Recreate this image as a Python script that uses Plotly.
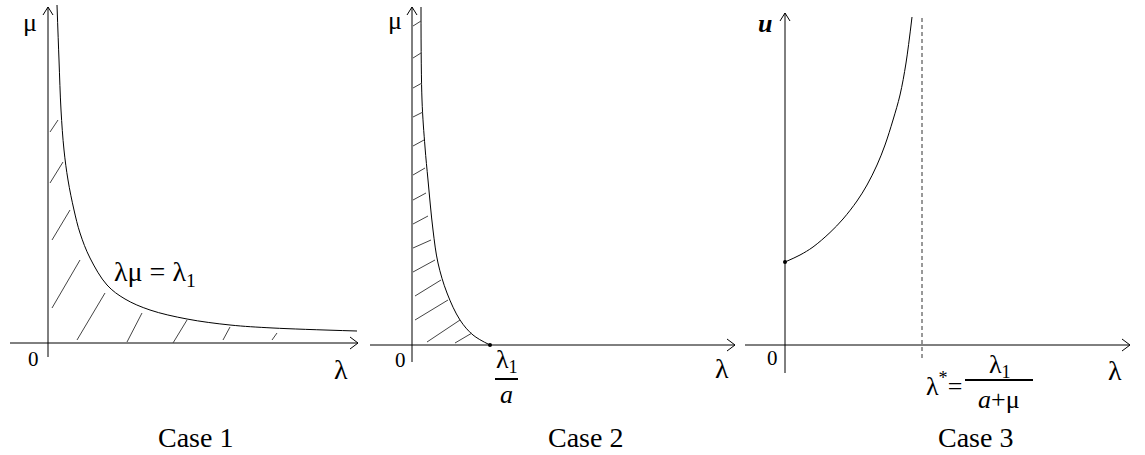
import plotly.graph_objects as go
from plotly.subplots import make_subplots

# --- Case 1: boundary lambda*mu = lambda_1 ---
c1_lam = [0.9, 1.1, 1.3, 1.6, 2.0, 2.6, 3.2, 4.2, 5.9, 7.7, 10.2, 13.9, 18.2, 22.5, 30.9]
c1_mu = [33.8, 28.3, 23.3, 19.3, 16.3, 13.3, 11.0, 8.5, 5.8, 4.4, 3.3, 2.4, 1.8, 1.5, 1.2]
# hatch strokes: start (lam, mu) -> end (lam, mu)
c1_hatch_l0 = [0.2, 0.2, 0.4, 0.4, 2.9, 7.9, 12.5, 17.5, 22.4]
c1_hatch_m0 = [21.1, 16.0, 10.3, 3.5, 0.3, 0.1, 0.0, 0.3, 0.3]
c1_hatch_l1 = [1.0, 1.5, 2.2, 3.2, 5.7, 9.4, 13.9, 18.2, 22.9]
c1_hatch_m1 = [22.3, 18.1, 13.3, 8.3, 5.0, 3.0, 2.3, 1.6, 1.0]

# --- Case 2: curve hitting the lambda axis at lambda_1 / a ---
c2_lam = [0.9, 1.0, 1.3, 1.6, 2.1, 2.6, 3.5, 4.8, 6.1, 7.8]
c2_mu = [33.8, 24.5, 19.8, 16.5, 11.5, 8.2, 5.2, 2.5, 1.0, 0.0]
c2_hatch_l0 = [0.1, 0.1, 0.1, 0.1, 0.1, 0.1, 0.1, 0.1, 0.1, 0.1, 0.3, 0.3, 1.5, 4.3]
c2_hatch_m0 = [31.9, 28.7, 25.7, 22.8, 19.9, 17.0, 14.5, 12.1, 9.7, 7.3, 4.9, 2.5, 0.3, 0.2]
c2_hatch_l1 = [0.9, 0.9, 1.0, 1.1, 1.2, 1.3, 1.4, 1.6, 1.9, 2.3, 2.9, 3.6, 4.8, 6.0]
c2_hatch_m1 = [32.4, 29.2, 26.2, 23.3, 20.5, 17.7, 15.2, 12.9, 10.5, 8.5, 6.5, 4.5, 2.5, 1.2]

# --- Case 3: u(lambda) blowing up at lambda* ---
c3_lam = [0.0, 1.5, 2.8, 4.5, 5.8, 7.2, 8.2, 9.2, 10.0, 10.8, 11.5, 12.1, 12.7]
c3_u = [8.3, 9.0, 9.8, 11.25, 12.6, 14.4, 16.0, 18.0, 20.0, 22.5, 25.0, 28.2, 32.8]
lam_star = 13.7
lam_star_span = [-1.3, 32.8]

# axis extents per panel: (x from, x to, y from, y to)
axes_ext = [(-3.8, 31.0, -1.4, 33.6), (-4.2, 32.3, -1.7, 33.8), (-4.0, 34.5, -2.8, 33.2)]
# visible ranges per panel
x_ranges = [[-4.8, 32.2], [-4.2, 33.3], [-4.0, 36.0]]
y_ranges = [[-11.2, 34.3], [-11.0, 34.5], [-11.0, 34.5]]

case_titles = ["Case 1", "Case 2", "Case 3"]
case_pos = [(14.7, -9.4), (17.3, -9.2), (19.0, -9.2)]
y_names = ["μ", "μ", "<b><i>u</i></b>"]
y_name_pos = [(-1.8, 32.1), (-1.7, 32.5), (-2.0, 32.2)]
zero_pos = [(-1.5, -1.6), (-1.2, -1.5), (-1.3, -1.3)]
lam_pos = [(29.3, -2.6), (31.0, -2.3), (33.0, -2.5)]

FONT = "Liberation Serif, DejaVu Serif, serif"

fig = make_subplots(rows=1, cols=3, horizontal_spacing=0,
                    column_widths=[370, 375, 400])

def seg_xy(l0, m0, l1, m1):
    xs, ys = [], []
    for a, b, c, d in zip(l0, m0, l1, m1):
        xs += [a, c, None]
        ys += [b, d, None]
    return xs, ys

line_k = dict(color="black", width=1)

for i, (x0, x1, y0, y1) in enumerate(axes_ext):
    col = i + 1
    # axes
    fig.add_trace(go.Scatter(x=[x0, x1, None, 0, 0], y=[0, 0, None, y0, y1],
                             mode="lines", line=line_k), row=1, col=col)
    # open arrow heads
    ah = 0.8
    fig.add_trace(go.Scatter(x=[x1 - ah, x1, x1 - ah, None, -0.5, 0, 0.5],
                             y=[0.6, 0, -0.6, None, y1 - ah, y1, y1 - ah],
                             mode="lines", line=line_k), row=1, col=col)

# case 1
fig.add_trace(go.Scatter(x=c1_lam, y=c1_mu, mode="lines", line=line_k,
                         line_shape="spline"), row=1, col=1)
hx, hy = seg_xy(c1_hatch_l0, c1_hatch_m0, c1_hatch_l1, c1_hatch_m1)
fig.add_trace(go.Scatter(x=hx, y=hy, mode="lines",
                         line=dict(color="#444", width=1)), row=1, col=1)

# case 2
fig.add_trace(go.Scatter(x=c2_lam, y=c2_mu, mode="lines", line=line_k,
                         line_shape="spline"), row=1, col=2)
fig.add_trace(go.Scatter(x=[c2_lam[-1]], y=[c2_mu[-1]], mode="markers",
                         marker=dict(color="black", size=4)), row=1, col=2)
hx, hy = seg_xy(c2_hatch_l0, c2_hatch_m0, c2_hatch_l1, c2_hatch_m1)
fig.add_trace(go.Scatter(x=hx, y=hy, mode="lines",
                         line=dict(color="#444", width=1)), row=1, col=2)

# case 3
fig.add_trace(go.Scatter(x=c3_lam, y=c3_u, mode="lines", line=line_k,
                         line_shape="spline"), row=1, col=3)
fig.add_trace(go.Scatter(x=[c3_lam[0]], y=[c3_u[0]], mode="markers",
                         marker=dict(color="black", size=4)), row=1, col=3)
fig.add_trace(go.Scatter(x=[lam_star, lam_star], y=lam_star_span, mode="lines",
                         line=dict(color="#333", width=1, dash="4px,3px")),
              row=1, col=3)

def txt(text, x, y, i, size=26):
    suf = "" if i == 0 else str(i + 1)
    fig.add_annotation(text=text, x=x, y=y, xref="x" + suf, yref="y" + suf,
                       showarrow=False, font=dict(family=FONT, size=size, color="black"))

for i in range(3):
    txt(case_titles[i], *case_pos[i], i, size=28)
    txt(y_names[i], *y_name_pos[i], i, size=26)
    txt("0", *zero_pos[i], i, size=21)
    txt("λ", *lam_pos[i], i, size=28)

txt("λμ = λ<sub>1</sub>", 10.7, 7.0, 0, size=28)

# case 2 fraction lambda_1 / a
txt("λ<sub>1</sub>", 9.5, -1.6, 1, size=26)
fig.add_shape(type="line", xref="x2", yref="y2", x0=8.3, x1=10.6, y0=-3.4, y1=-3.4,
              line=dict(color="black", width=2))
txt("<i>a</i>", 9.4, -4.9, 1, size=26)

# case 3 lambda* = lambda_1 / (a + mu)
txt("λ<sup>*</sup>=", 15.9, -3.9, 2, size=26)
txt("λ<sub>1</sub>", 21.5, -2.1, 2, size=26)
fig.add_shape(type="line", xref="x3", yref="y3", x0=18.0, x1=24.8, y0=-3.5, y1=-3.5,
              line=dict(color="black", width=2))
txt("<i>a</i>+μ", 21.4, -5.4, 2, size=26)

for i in range(3):
    suf = "" if i == 0 else str(i + 1)
    fig.layout["xaxis" + suf].update(range=x_ranges[i], visible=False)
    fig.layout["yaxis" + suf].update(range=y_ranges[i], visible=False)

fig.update_layout(width=1145, height=455, margin=dict(l=0, r=0, t=0, b=0),
                  showlegend=False, plot_bgcolor="white", paper_bgcolor="white")

fig.write_html("out.html", config={"displayModeBar": False},
               post_script="document.body.style.margin='0';")
